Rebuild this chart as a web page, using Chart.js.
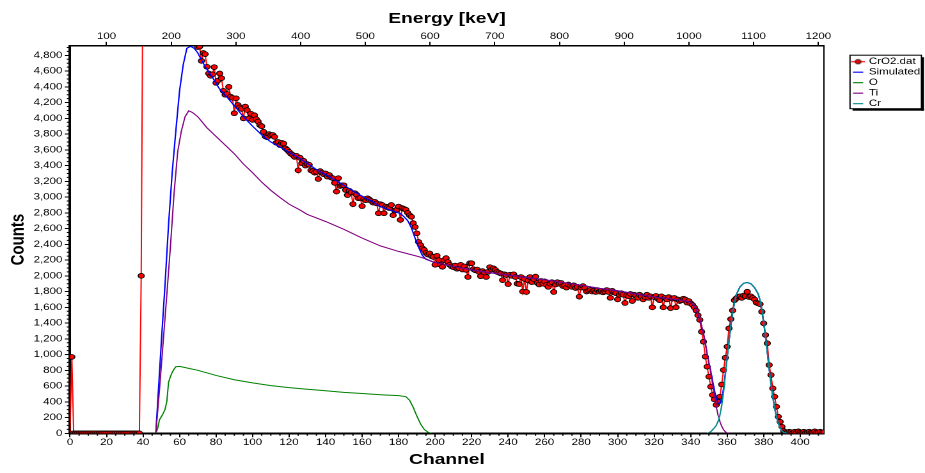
<!DOCTYPE html>
<html>
<head>
  <title>CrO2 spectrum</title>
  <script src="https://cdn.jsdelivr.net/npm/chart.js"></script>
  <style>
    html, body { margin: 0; padding: 0; background: #fff; overflow: hidden; }
    /* the source picture is stretched sideways, so the canvas is stretched the same way */
    #spectrum { display: block; transform: scaleX(1.2794); transform-origin: 0 0; }
  </style>
</head>
<body>
  <canvas id="spectrum" width="723" height="473"></canvas>

  <script>
    // measured counts, one value per channel (index = channel 0..413)
    const measuredCounts = [
      0, 970, 0, 0, 0, 0, 0, 0, 0, 0,
      0, 0, 0, 0, 0, 0, 0, 0, 0, 0,
      0, 0, 0, 0, 0, 0, 0, 0, 0, 0,
      0, 0, 0, 0, 0, 0, 0, 0, 0, 2000,
      6200, 6050, 5980, 6120, 5900, 6010, 5870, 5960, 5780, 5830,
      5700, 5610, 5520, 5480, 5390, 5330, 5280, 5240, 5200, 5180,
      5150, 5120, 5100, 5090, 5080, 5060, 5040, 5030, 5010, 4990,
      4905, 4910, 4730, 4830, 4815, 4655, 4570, 4540, 4560, 4650,
      4450, 4480, 4570, 4510, 4350, 4300, 4310, 4400, 4275, 4260,
      4065, 4255, 4170, 4140, 4120, 4000, 4150, 4105, 4000, 4060,
      3980, 4040, 3990, 3960, 3915, 3900, 3830, 3770, 3760, 3800,
      3785, 3790, 3765, 3690, 3700, 3660, 3690, 3680, 3620, 3600,
      3575, 3550, 3535, 3510, 3525, 3340, 3500, 3430, 3460, 3400,
      3420, 3410, 3340, 3330, 3310, 3320, 3230, 3330, 3310, 3290,
      3300, 3260, 3280, 3250, 3240, 3180, 3070, 3240, 3140, 3150,
      3150, 3090, 3025, 3080, 3060, 2910, 3050, 3030, 2985, 2990,
      2885, 2975, 2960, 2985, 2970, 2950, 2930, 2940, 2920, 2795,
      2910, 2900, 2795, 2880, 2870, 2860, 2900, 2770, 2830, 2840,
      2880, 2710, 2860, 2850, 2840, 2800, 2770, 2750, 2670, 2620,
      2540, 2430, 2390, 2350, 2330, 2290, 2270, 2285, 2250, 2240,
      2140, 2255, 2200, 2140, 2115, 2200, 2225, 2175, 2140, 2120,
      2110, 2130, 2090, 2100, 2140, 2080, 2120, 2075, 1985, 2160,
      2160, 2085, 2070, 2080, 2050, 1995, 2060, 2040, 1985, 2050,
      2110, 2080, 2095, 2075, 2050, 2040, 2030, 1945, 2020, 2010,
      1895, 2015, 2000, 2020, 1985, 1900, 1895, 1985, 1800, 1960,
      1795, 1940, 1985, 1920, 1960, 1990, 1910, 1890, 1935, 1900,
      1930, 1885, 1860, 1900, 1920, 1795, 1890, 1920, 1900, 1910,
      1870, 1880, 1850, 1890, 1870, 1860, 1880, 1845, 1860, 1735,
      1850, 1870, 1845, 1800, 1810, 1820, 1800, 1810, 1795, 1820,
      1800, 1810, 1790, 1800, 1820, 1795, 1720, 1810, 1790, 1780,
      1700, 1760, 1780, 1760, 1655, 1750, 1740, 1770, 1680, 1760,
      1750, 1720, 1760, 1740, 1700, 1730, 1760, 1720, 1740, 1600,
      1730, 1745, 1710, 1690, 1740, 1600, 1720, 1700, 1730, 1590,
      1710, 1720, 1600, 1700, 1680, 1690, 1710, 1700, 1660, 1680,
      1650, 1630, 1600, 1560, 1500, 1440, 1290, 1163, 973, 846,
      719, 592, 486, 430, 360, 401, 465, 620, 804, 960,
      1100, 1333, 1450, 1560, 1690, 1714, 1735, 1740, 1720, 1750,
      1740, 1798, 1730, 1740, 1720, 1700, 1660, 1650, 1640, 1544,
      1397, 1248, 1143, 867, 740, 571, 465, 338, 211, 147,
      84, 30, 15, 10, 20, 15, 5, 20, 10, 25,
      15, 10, 20, 5, 15, 20, 10, 15, 25, 10,
      15, 20, 10, 15
    ];

    const simChannels = [47, 48, 50, 52, 54, 56, 58, 60, 62, 64, 66, 68, 70, 72, 75, 78, 82, 86, 90, 95,
      100, 105, 110, 117, 126, 135, 142, 150, 160, 166, 170, 176, 181, 183, 185, 187, 189, 191, 193, 195,
      199, 210, 220, 230, 240, 250, 260, 270, 280, 290, 300, 310, 320, 330, 335, 340, 342, 343, 344, 345,
      346, 347, 348, 349, 350, 351, 352, 353, 354, 355, 356, 357, 358, 359, 360, 361, 362, 363, 364, 365,
      367, 369, 371, 373, 375, 377, 378, 379, 380, 381, 382, 383, 384, 385, 386, 387, 388, 389, 390, 391, 393];
    const simCounts = [0, 380, 1150, 1870, 2660, 3320, 3850, 4350, 4680, 4890, 4915, 4890, 4830, 4740, 4620, 4520, 4370, 4270, 4160, 4020,
      3900, 3790, 3700, 3610, 3490, 3350, 3260, 3150, 3010, 2940, 2880, 2830, 2790, 2750, 2700, 2610, 2480, 2360, 2260, 2210,
      2175, 2120, 2075, 2040, 2010, 1980, 1950, 1915, 1880, 1840, 1810, 1770, 1730, 1705, 1690, 1665, 1620, 1570, 1510, 1440,
      1360, 1270, 1150, 1010, 895, 790, 665, 550, 440, 380, 380, 440, 565, 760, 965, 1170, 1360, 1530, 1660, 1760,
      1860, 1905, 1915, 1900, 1850, 1770, 1690, 1570, 1410, 1230, 1030, 820, 630, 460, 320, 210, 130, 70, 30, 10, 0];

    const oChannels = [47, 48, 49, 50, 51, 52, 53, 54, 55, 56, 57, 58, 60, 62, 65, 70, 80, 90, 100, 110,
      120, 130, 140, 150, 160, 170, 180, 184, 186, 188, 190, 192, 194, 196, 198];
    const oCounts = [0, 60, 170, 210, 250, 300, 400, 650, 720, 775, 815, 845, 850, 840, 825, 800, 735, 680, 640, 605,
      580, 560, 540, 520, 505, 490, 478, 465, 420, 330, 220, 120, 50, 15, 0];

    const tiChannels = [47, 49, 51, 53, 55, 57, 59, 61, 63, 65, 67, 70, 75, 80, 85, 90, 95, 100, 105, 110,
      115, 120, 126, 130, 140, 150, 160, 170, 180, 190, 195, 199, 210, 220, 230, 240, 250, 260, 270, 280,
      290, 300, 310, 320, 330, 335, 340, 342, 343, 344, 345, 346, 347, 348, 349, 350, 351, 352, 353, 354,
      355, 356, 357, 358, 359, 360, 361];
    const tiCounts = [0, 550, 1150, 1750, 2370, 3050, 3580, 3840, 4020, 4095, 4075, 4020, 3880, 3770, 3660, 3550, 3420, 3310, 3190, 3085,
      2995, 2910, 2835, 2780, 2690, 2590, 2480, 2380, 2310, 2250, 2215, 2175, 2120, 2075, 2040, 2010, 1980, 1950, 1915, 1880,
      1840, 1810, 1770, 1730, 1705, 1690, 1665, 1620, 1570, 1510, 1440, 1360, 1270, 1150, 1010, 890, 770, 620, 480, 340,
      230, 150, 90, 45, 20, 5, 0];

    const crChannels = [349, 351, 352, 353, 354, 355, 356, 357, 358, 359, 360, 361, 362, 363, 364, 365, 367, 369, 371, 373,
      375, 377, 378, 379, 380, 381, 382, 383, 384, 385, 386, 387, 388, 389, 390, 391, 393];
    const crCounts = [0, 20, 45, 70, 100, 150, 230, 350, 520, 740, 960, 1170, 1360, 1530, 1660, 1760, 1860, 1905, 1915, 1900,
      1850, 1770, 1690, 1570, 1410, 1230, 1030, 820, 630, 460, 320, 210, 130, 70, 30, 10, 0];

    // energy calibration for the top axis
    const keVAtChannel0 = 43.6;
    const keVPerChannel = 2.821;
    const lastChannel = 413;
    const maxCounts = 4920;

    const pairs = (xs, ys) => xs.map((x, i) => ({ x: x, y: ys[i] }));

    Chart.defaults.font.family = "'Liberation Sans', Arial, sans-serif";
    Chart.defaults.color = '#000';

    // legend symbol for the measured data: line with a dot
    const dataIcon = document.createElement('canvas');
    dataIcon.width = 11;
    dataIcon.height = 7;
    const ic = dataIcon.getContext('2d');
    ic.strokeStyle = '#ff0000';
    ic.lineWidth = 1.2;
    ic.beginPath(); ic.moveTo(0, 3.5); ic.lineTo(11, 3.5); ic.stroke();
    ic.beginPath(); ic.arc(5.5, 3.5, 2.2, 0, Math.PI * 2);
    ic.fillStyle = '#ff0000'; ic.fill();
    ic.lineWidth = 0.8; ic.strokeStyle = '#000'; ic.stroke();

    // minor ticks and the framed legend box
    const extras = {
      id: 'extras',
      afterDraw(chart) {
        const { ctx, chartArea: a, scales } = chart;
        ctx.save();
        ctx.strokeStyle = '#000';
        ctx.lineWidth = 1;
        ctx.beginPath();
        for (let v = 0; v <= scales.x.max; v += 5) {
          if (v % 20 === 0) continue;
          const px = scales.x.getPixelForValue(v);
          ctx.moveTo(px, a.bottom);
          ctx.lineTo(px, a.bottom + 2.5);
        }
        for (let v = 0; v <= scales.y.max; v += 50) {
          if (v % 200 === 0) continue;
          const py = scales.y.getPixelForValue(v);
          ctx.moveTo(a.left - 2.5, py);
          ctx.lineTo(a.left, py);
        }
        ctx.stroke();

        const lg = chart.legend;
        const boxes = lg.legendHitBoxes;
        const last = boxes[boxes.length - 1];
        const x0 = lg.left - 0.8;
        const y0 = boxes[0].top - 2;
        const x1 = lg.left + 55;
        const y1 = last.top + last.height + 0.5;
        ctx.lineWidth = 1;
        ctx.strokeRect(x0, y0, x1 - x0, y1 - y0);
        ctx.fillStyle = '#000';
        ctx.fillRect(x1, y0 + 2, 2, y1 - y0);
        ctx.fillRect(x0 + 2, y1, x1 - x0, 2);
        ctx.restore();
      }
    };

    const tickFont = { size: 9 };
    const titleFont = { size: 15, weight: 'bold' };

    new Chart(document.getElementById('spectrum'), {
      type: 'line',
      data: {
        datasets: [
          {
            label: 'CrO2.dat',
            data: measuredCounts.map((c, ch) => ({ x: ch, y: c })),
            borderColor: '#ff0000',
            borderWidth: 1,
            pointRadius: 2.4,
            pointBackgroundColor: '#ff0000',
            pointBorderColor: '#000',
            pointBorderWidth: 0.8,
            clip: 0,
            order: 4
          },
          { label: 'Simulated', data: pairs(simChannels, simCounts), borderColor: '#0000ff', borderWidth: 1.1, pointRadius: 0, order: 3 },
          { label: 'O', data: pairs(oChannels, oCounts), borderColor: '#008000', borderWidth: 1, pointRadius: 0, order: 2 },
          { label: 'Ti', data: pairs(tiChannels, tiCounts), borderColor: '#800080', borderWidth: 1, pointRadius: 0, order: 1 },
          { label: 'Cr', data: pairs(crChannels, crCounts), borderColor: '#008b8b', borderWidth: 1.1, pointRadius: 0, order: 0 }
        ]
      },
      options: {
        responsive: false,
        devicePixelRatio: 2,
        animation: false,
        events: [],
        layout: { autoPadding: false, padding: { top: 7.1, bottom: 1.9, left: 1.7, right: -6.2 } },
        scales: {
          x: {
            type: 'linear', position: 'bottom', min: 0, max: lastChannel,
            ticks: { stepSize: 20, includeBounds: false, autoSkip: false, maxTicksLimit: 100, maxRotation: 0, padding: 0, font: tickFont, color: '#000' },
            grid: { drawOnChartArea: false, tickLength: 4, color: '#000' },
            border: { color: '#000', width: 2 },
            title: { display: true, text: 'Channel', font: titleFont, color: '#000', padding: { top: 3, bottom: 2 } }
          },
          x2: {
            type: 'linear', position: 'top',
            min: keVAtChannel0, max: keVAtChannel0 + keVPerChannel * lastChannel,
            ticks: { stepSize: 100, includeBounds: false, autoSkip: false, maxTicksLimit: 100, maxRotation: 0, padding: 0, font: tickFont, color: '#000', callback: v => String(v) },
            grid: { drawOnChartArea: false, tickLength: 4, color: '#000' },
            border: { color: '#000', width: 1.5 },
            title: { display: true, text: 'Energy [keV]', font: titleFont, color: '#000', padding: { top: 3, bottom: 3 } }
          },
          y: {
            type: 'linear', position: 'left', min: 0, max: maxCounts,
            ticks: { stepSize: 200, includeBounds: false, autoSkip: false, maxTicksLimit: 100, padding: 2, font: tickFont, color: '#000', callback: v => v.toLocaleString('en-US') },
            grid: { drawOnChartArea: false, tickLength: 4, color: '#000' },
            border: { color: '#000', width: 2 },
            title: { display: true, text: 'Counts', font: titleFont, color: '#000', padding: { top: 3.5, bottom: 1 } }
          },
          y2: {
            type: 'linear', position: 'right',
            ticks: { display: false },
            grid: { drawOnChartArea: false, drawTicks: false },
            border: { color: '#000', width: 1 },
            afterFit(scale) { scale.width = 21.2; }
          }
        },
        plugins: {
          tooltip: { enabled: false },
          legend: {
            position: 'right',
            align: 'start',
            title: { display: true, text: ' ', font: { size: 1 }, padding: { top: 47.4, bottom: 0 } },
            labels: {
              usePointStyle: true,
              pointStyleWidth: 8,
              padding: 1.5,
              color: '#000',
              font: { size: 9 },
              sort: (a, b) => a.datasetIndex - b.datasetIndex,
              generateLabels(chart) {
                const items = Chart.defaults.plugins.legend.labels.generateLabels(chart);
                items.forEach(item => {
                  const ds = chart.data.datasets[item.datasetIndex];
                  item.pointStyle = item.datasetIndex === 0 ? dataIcon : 'line';
                  item.strokeStyle = ds.borderColor;
                  item.lineWidth = 1.2;
                });
                return items;
              }
            }
          }
        }
      },
      plugins: [extras]
    });
  </script>
</body>
</html>
